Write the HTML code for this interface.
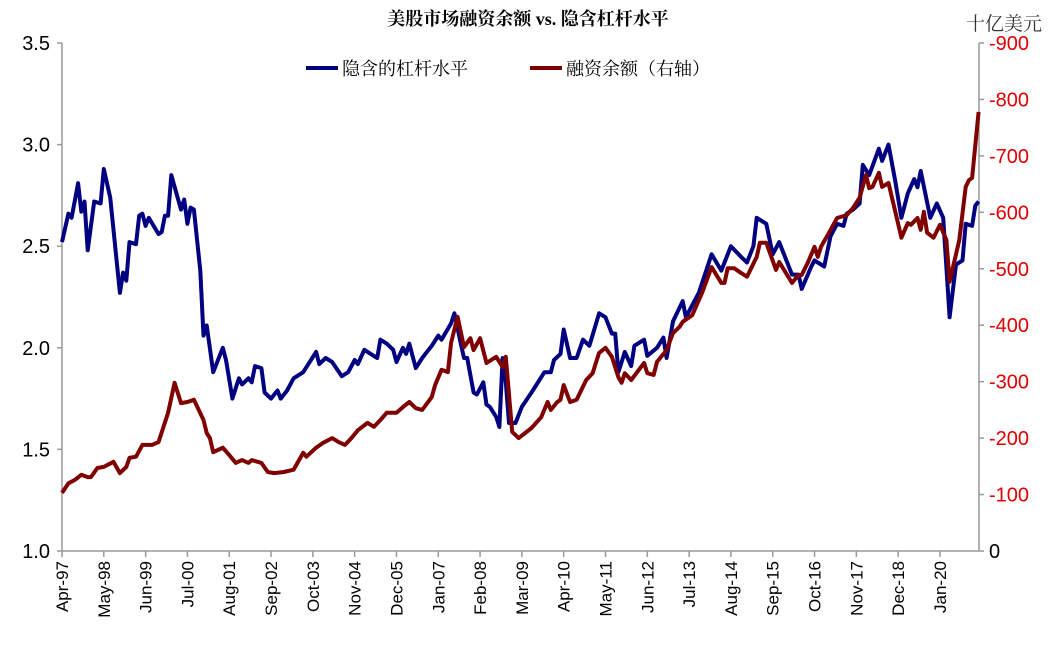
<!DOCTYPE html>
<html><head><meta charset="utf-8"><style>
body{margin:0;background:#fff;}
svg text{font-family:"Liberation Sans","Noto Sans CJK SC",sans-serif;}
</style></head><body>
<svg id="chart" width="1056" height="647" xmlns="http://www.w3.org/2000/svg">
<text x="528" y="25" text-anchor="middle" font-size="18" font-weight="bold" style="font-family:'Liberation Serif','Noto Serif CJK SC',serif">美股市场融资余额 vs. 隐含杠杆水平</text>
<text x="1004" y="30" text-anchor="middle" font-size="19" style="font-family:'Liberation Serif','Noto Serif CJK SC',serif" fill="#333">十亿美元</text>
<g>
<line x1="306" y1="68" x2="338" y2="68" stroke="#000080" stroke-width="4"/>
<text x="342" y="75" font-size="18" style="font-family:'Liberation Serif','Noto Serif CJK SC',serif">隐含的杠杆水平</text>
<line x1="530" y1="68" x2="562" y2="68" stroke="#800000" stroke-width="4"/>
<text x="566" y="75" font-size="18" style="font-family:'Liberation Serif','Noto Serif CJK SC',serif">融资余额（右轴）</text>
</g>
<g id="axes"></g>
<g id="series"></g>
</svg>
<script>
const xLabels=["Apr-97","May-98","Jun-99","Jul-00","Aug-01","Sep-02","Oct-03","Nov-04","Dec-05","Jan-07","Feb-08","Mar-09","Apr-10","May-11","Jun-12","Jul-13","Aug-14","Sep-15","Oct-16","Nov-17","Dec-18","Jan-20"];
const leftTicks=[1.0,1.5,2.0,2.5,3.0,3.5];
const leftTickLabels=["1.0","1.5","2.0","2.5","3.0","3.5"];
const rightTicks=[0,100,200,300,400,500,600,700,800,900];
const rightTickLabels=["0","-100","-200","-300","-400","-500","-600","-700","-800","-900"];
// months since Apr-1997
const levMonths=[0,2,3,5,6,7,8,10,12,13,15,18,19,20,21,23,24,25,26,27,30,31,32,33,34,37,38,39,40,41,43,44,45,47,50,51,53,55,56,58,59,60,62,63,65,67,68,70,72,75,79,80,82,84,87,89,91,92,94,96,98,99,101,103,104,106,107,108,110,112,114,115,117,118,121,122,124,125,126,128,129,131,132,133,135,136,137,138,139,141,143,146,148,150,152,153,155,156,158,160,162,164,167,169,171,172,173,175,177,178,181,182,185,187,188,190,193,194,196,198,202,205,208,211,213,215,216,219,221,223,224,227,229,230,233,234,237,239,241,243,244,246,248,249,251,254,255,257,259,261,263,265,266,267,270,272,274,276,278,280,281,283,284,285];
const levValues=[2.52,2.66,2.64,2.81,2.67,2.72,2.48,2.72,2.71,2.88,2.74,2.27,2.37,2.33,2.52,2.51,2.65,2.66,2.60,2.64,2.56,2.57,2.65,2.65,2.85,2.68,2.73,2.61,2.69,2.68,2.38,2.06,2.11,1.88,2.00,1.94,1.75,1.85,1.82,1.85,1.83,1.91,1.90,1.78,1.75,1.79,1.75,1.79,1.85,1.88,1.98,1.92,1.95,1.93,1.86,1.88,1.94,1.92,1.99,1.97,1.95,2.04,2.02,1.99,1.93,2.00,1.97,2.02,1.90,1.95,1.99,2.01,2.06,2.04,2.12,2.17,2.02,1.95,1.95,1.78,1.77,1.83,1.72,1.71,1.66,1.61,1.95,1.83,1.63,1.63,1.71,1.78,1.83,1.88,1.88,1.94,1.97,2.09,1.95,1.95,2.04,2.01,2.17,2.15,2.07,2.07,1.88,1.98,1.91,2.01,2.04,1.96,2.00,2.05,1.95,2.13,2.23,2.15,2.21,2.27,2.46,2.38,2.50,2.45,2.42,2.50,2.64,2.61,2.46,2.52,2.48,2.36,2.36,2.29,2.40,2.43,2.40,2.55,2.61,2.60,2.66,2.68,2.71,2.90,2.85,2.98,2.92,3.00,2.83,2.64,2.76,2.83,2.79,2.87,2.64,2.71,2.64,2.15,2.41,2.43,2.61,2.60,2.70,2.72];
const debtMonths=[0,2,4,6,8,9,11,13,16,18,20,21,23,25,28,30,33,35,37,39,41,44,45,46,47,50,52,54,56,58,59,62,64,66,69,72,75,76,79,81,84,86,88,90,92,95,97,99,101,104,106,108,110,112,115,116,118,120,121,123,125,127,128,130,132,135,137,138,140,142,146,149,151,152,154,155,156,158,160,163,165,167,169,171,173,174,175,177,181,182,184,185,188,190,192,193,196,199,202,205,206,207,209,211,213,216,217,219,222,223,227,229,230,232,234,235,236,239,241,244,246,248,250,251,252,254,255,257,259,261,263,264,266,267,268,269,271,273,275,276,279,281,282,283,285];
const debtValues=[103,120,126,135,131,131,147,149,158,138,149,165,167,188,188,193,245,298,262,264,268,232,209,200,175,183,170,156,161,156,161,156,140,138,140,144,174,167,183,191,200,193,188,200,214,227,220,232,245,245,255,264,253,250,273,294,321,317,369,415,361,377,356,377,333,344,326,344,211,200,218,237,264,250,264,268,294,264,268,303,315,351,360,344,308,298,315,303,333,315,312,335,356,386,397,406,418,457,503,475,475,501,501,493,486,521,546,546,498,512,475,489,489,512,539,521,539,569,590,595,608,626,666,643,645,670,645,652,604,555,581,578,590,569,601,564,555,578,551,477,551,645,657,661,778];

const NS="http://www.w3.org/2000/svg";
const X0=62,PX=3.216,YB=551,YT=43,RX=979;
const xScale=m=>X0+m*PX;
const yL=v=>YB-(v-1.0)/2.5*(YB-YT);
const yR=v=>YB-v/900*(YB-YT);
function mk(tag,attrs,parent){const e=document.createElementNS(NS,tag);for(const k in attrs)e.setAttribute(k,attrs[k]);parent.appendChild(e);return e;}
const axes=document.getElementById('axes'),ser=document.getElementById('series');
let e;
e=mk('line',{x1:X0,y1:YT,x2:X0,y2:YB,stroke:'#999','stroke-width':1.5},axes);


e=mk('line',{x1:RX,y1:YT,x2:RX,y2:YB,stroke:'#999','stroke-width':1.5},axes);


e=mk('line',{x1:X0,y1:YB,x2:RX,y2:YB,stroke:'#999','stroke-width':1.5},axes);


leftTicks.forEach((v,i)=>{
 const y=yL(v);
 e=mk('line',{x1:X0-5,y1:y,x2:X0,y2:y,stroke:'#999','stroke-width':1.5},axes);
 
 
 e=mk('text',{x:X0-12,y:y+7,'text-anchor':'end','font-size':20,fill:'#000'},axes);
 e.textContent=leftTickLabels[i];
 
 
});
rightTicks.forEach((v,i)=>{
 const y=yR(v);
 e=mk('line',{x1:RX,y1:y,x2:RX+5,y2:y,stroke:'#999','stroke-width':1.5},axes);
 
 
 e=mk('text',{x:RX+10,y:y+7,'text-anchor':'start','font-size':20,fill:i==0?'#000':'#e00000'},axes);
 e.textContent=rightTickLabels[i];
 
 
});
xLabels.forEach((l,i)=>{
 const x=xScale(i*13);
 e=mk('line',{x1:x,y1:YB,x2:x,y2:YB+6,stroke:'#999','stroke-width':1.5},axes);
 
 
 e=mk('text',{x:0,y:0,'text-anchor':'end','font-size':17,transform:`translate(${x+6},${YB+10}) rotate(-90)`},axes);
 e.textContent=l;
 
 
});
function path(ms,vs,ys){return ms.map((m,i)=>(i?'L':'M')+xScale(m).toFixed(1)+','+ys(vs[i]).toFixed(1)).join('');}
e=mk('path',{d:path(levMonths,levValues,yL),fill:'none',stroke:'#000080','stroke-width':4,'stroke-linejoin':'round'},ser);


e=mk('path',{d:path(debtMonths,debtValues,yR),fill:'none',stroke:'#800000','stroke-width':4,'stroke-linejoin':'round'},ser);


</script>
</body></html>
